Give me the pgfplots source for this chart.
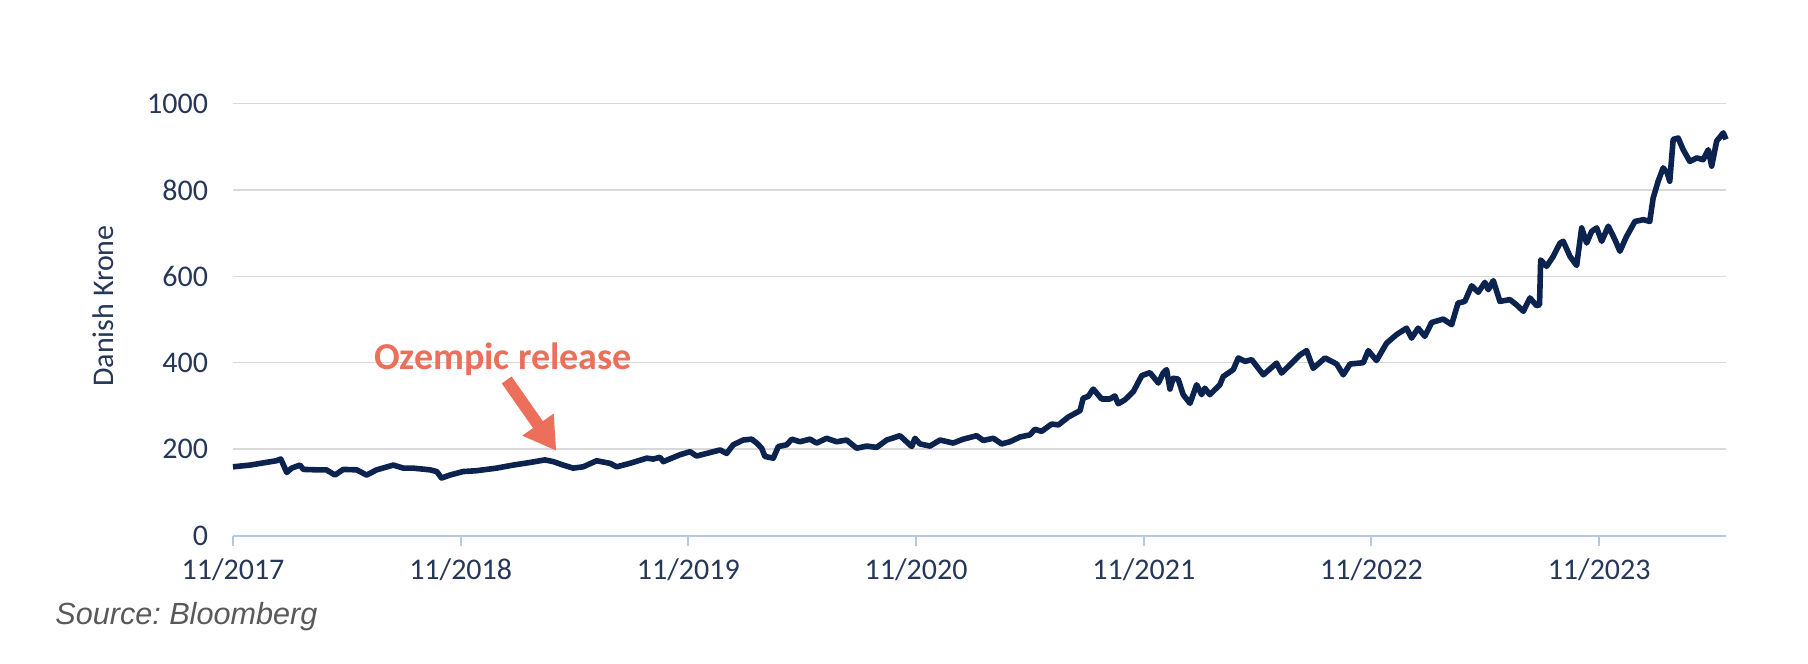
\documentclass[border=0pt]{standalone}
\usepackage{pgfplots}
\pgfplotsset{compat=1.18}
\usepackage{fontspec}
\setmainfont{Carlito}
\newfontfamily\arialfont{Liberation Sans}
\usetikzlibrary{arrows.meta}
\definecolor{navy}{RGB}{12,35,80}
\definecolor{lbl}{RGB}{38,55,90}
\definecolor{gridc}{RGB}{217,217,217}
\definecolor{axl}{RGB}{180,199,231}
\definecolor{salmon}{RGB}{235,111,90}
\definecolor{src}{RGB}{89,89,89}
\frenchspacing
\begin{document}
\begin{tikzpicture}
\path[use as bounding box] (-116.5bp,-64.25bp) rectangle (787.5bp,267.75bp);
\begin{axis}[
  scale only axis, width=746.5bp, height=216bp,
  xmin=0, xmax=6.557, ymin=0, ymax=1000,
  axis x line*=bottom, axis y line*=left,
  y axis line style={draw=none},
  x axis line style={axl, line width=1bp},
  ytick={0,200,400,600,800,1000},
  xtick={0,1,2,3,4,5,6},
  xticklabels={11/2017,11/2018,11/2019,11/2020,11/2021,11/2022,11/2023},
  ymajorgrids, xmajorgrids=false,
  major grid style={gridc, line width=0.75bp},
  ytick style={draw=none},
  xtick style={axl, line width=1bp},
  tick align=outside, major tick length=5bp,
  tick label style={font=\fontsize{15bp}{18bp}\selectfont, text=lbl},
  /pgf/number format/assume math mode=true,
  /pgf/number format/1000 sep={},
  yticklabel style={xshift=-4bp},
  xticklabel style={yshift=-3bp},
  clip=false,
]
\addplot[navy, line width=2.8bp, line join=round] coordinates {
(0,159)(0.075,163)(0.19,173)(0.21,177)(0.236,146)(0.258,156)(0.294,163)(0.309,153)(0.367,152)(0.41,152)(0.448,140)(0.484,153)(0.543,152)(0.587,140)(0.631,152)(0.704,163)(0.748,156)(0.79,156)(0.865,152)(0.895,148)(0.916,133)(0.953,140)(1.01,148)(1.07,150)(1.158,156)(1.23,163)(1.304,169)(1.37,175)(1.407,171)(1.45,163)(1.494,156)(1.538,159)(1.597,173)(1.656,167)(1.685,159)(1.743,167)(1.817,179)(1.846,177)(1.875,181)(1.89,171)(1.963,187)(2.007,194)(2.036,184)(2.095,192)
(2.139,198)(2.168,190)(2.197,210)(2.241,221)(2.278,223)(2.30,214)(2.322,202)(2.336,183)(2.373,179)(2.395,206)(2.432,210)(2.454,223)(2.49,217)(2.534,223)(2.563,214)(2.607,225)(2.651,217)(2.695,221)(2.739,202)(2.783,207)(2.827,204)(2.871,221)(2.929,231)(2.958,217)(2.981,206)(2.995,225)(3.017,212)(3.061,207)(3.105,221)(3.163,214)(3.207,223)(3.266,231)(3.295,220)(3.339,225)(3.376,212)(3.412,217)(3.456,228)(3.50,233)(3.522,246)(3.551,241)(3.595,258)(3.625,256)(3.668,274)(3.72,289)(3.734,318)(3.756,322)(3.778,339)(3.815,316)(3.851,316)(3.873,323)(3.888,305)(3.917,314)(3.954,333)(3.991,370)(4.027,377)(4.064,353)(4.085,376)(4.10,384)(4.115,339)(4.129,364)(4.151,362)(4.173,326)(4.203,306)(4.232,349)(4.254,326)(4.268,341)(4.29,326)(4.334,349)
(4.349,368)(4.371,376)(4.393,384)(4.415,411)(4.445,403)(4.474,407)(4.525,372)(4.583,399)(4.605,376)(4.642,395)(4.686,418)(4.715,428)(4.744,387)(4.796,411)(4.847,397)(4.876,372)(4.906,397)(4.964,400)(4.986,428)(5.022,405)(5.066,445)(5.11,465)(5.154,480)(5.176,457)(5.205,480)(5.234,461)(5.264,493)(5.315,501)(5.352,488)(5.38,538)(5.41,542)(5.44,578)(5.469,563)(5.498,586)(5.513,569)(5.535,590)(5.564,542)(5.608,546)(5.637,534)(5.667,519)(5.696,550)(5.725,532)(5.738,534)(5.743,638)(5.769,623)(5.798,646)(5.828,677)(5.842,681)(5.872,646)(5.901,625)(5.923,712)(5.945,677)(5.967,704)(5.989,712)(6.011,681)(6.04,716)(6.069,685)(6.091,658)(6.12,692)(6.157,727)(6.194,731)(6.222,727)(6.237,781)(6.259,820)(6.281,851)(6.299,839)(6.31,820)(6.325,917)(6.347,920)(6.369,893)(6.398,866)(6.428,874)(6.457,870)(6.479,893)(6.494,855)(6.516,913)(6.545,932)(6.557,917)
};
\draw[salmon, line width=6bp, -{Triangle[width=18bp,length=16bp]}] (axis cs:1.202,360) -- (axis cs:1.42,196);
\node[text=salmon, font=\fontsize{19bp}{22bp}\selectfont\bfseries] at (axis cs:1.186,409) {Ozempic release};
\end{axis}
\node[rotate=90, text=lbl, font=\fontsize{15bp}{18bp}\selectfont] at (-65bp,114.75bp) {Danish Krone};
\node[anchor=west, inner sep=0pt, text=src, font=\arialfont\itshape\fontsize{15.3bp}{18bp}\selectfont] at (-89bp,-40.75bp) {Source: Bloomberg};
\end{tikzpicture}
\end{document}
